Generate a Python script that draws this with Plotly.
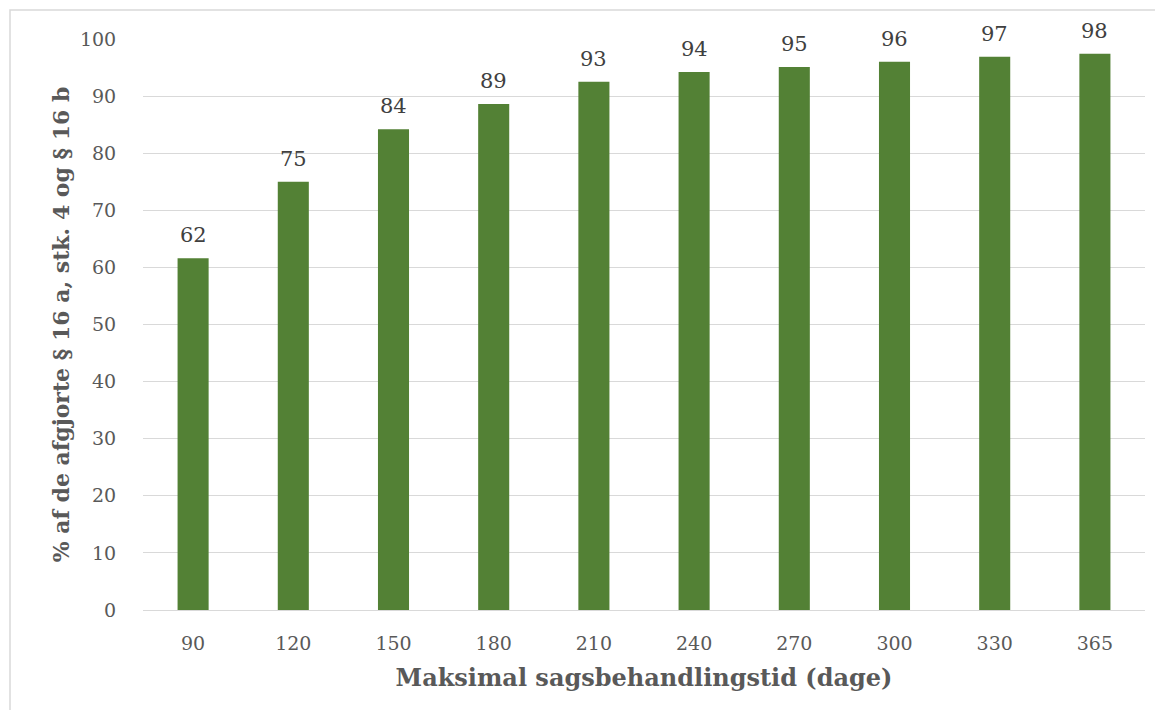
import plotly.graph_objects as go

categories = ["90", "120", "150", "180", "210", "240", "270", "300", "330", "365"]
values = [61.6, 75.0, 84.2, 88.6, 92.5, 94.2, 95.1, 96.0, 96.9, 97.4]
labels = ["62", "75", "84", "89", "93", "94", "95", "96", "97", "98"]
y_ticks = list(range(0, 101, 10))

FONT = "DejaVu Serif"
GRAY = "#595959"

fig = go.Figure(go.Bar(
    x=categories, y=values,
    marker=dict(color="#538135", line=dict(width=0)),
    width=0.31, hoverinfo="x+y",
))

annotations = [
    dict(x=i, y=v, text=t, showarrow=False, xref="x", yref="y",
         yanchor="middle", yshift=23,
         font=dict(family=FONT, size=21, color="#404040"))
    for i, (v, t) in enumerate(zip(values, labels))
]

# the page body adds an 8px offset, so the figure is 16px smaller than the window
W, H = 1147, 702
L, T, PW, PH = 135, 31, 1002, 571

fig.update_layout(
    width=W, height=H,
    margin=dict(l=L, r=W - L - PW, t=T, b=H - T - PH),
    paper_bgcolor="white", plot_bgcolor="white",
    showlegend=False,
    font=dict(family=FONT, color=GRAY),
    annotations=annotations,
    xaxis=dict(
        type="category", categoryorder="array", categoryarray=categories,
        tickfont=dict(size=19, color=GRAY), tickangle=0,
        ticks="outside", ticklen=16, tickcolor="rgba(0,0,0,0)",
        showgrid=False, showline=False, automargin=False,
        title=dict(text="<b>Maksimal sagsbehandlingstid (dage)</b>",
                   font=dict(size=24, color=GRAY), standoff=16),
    ),
    yaxis=dict(
        range=[0, 100], tickvals=y_ticks, tickfont=dict(size=19, color=GRAY),
        showgrid=True, gridcolor="#d9d9d9", gridwidth=1.3,
        zeroline=True, zerolinecolor="#d9d9d9", zerolinewidth=1.3,
        ticks="outside", ticklen=22, tickcolor="rgba(0,0,0,0)", automargin=False,
        title=dict(text="<b>% af de afgjorte § 16 a, stk. 4 og § 16 b</b>",
                   font=dict(size=22, color=GRAY), standoff=4),
    ),
    shapes=[dict(type="rect", xref="paper", yref="paper",
                 x0=(2 - L) / PW, x1=1.2, y0=-0.5, y1=(PH + T - 2) / PH,
                 line=dict(color="#d9d9d9", width=1.5), fillcolor="rgba(0,0,0,0)",
                 layer="below")],
)

fig.write_html("out.html")
